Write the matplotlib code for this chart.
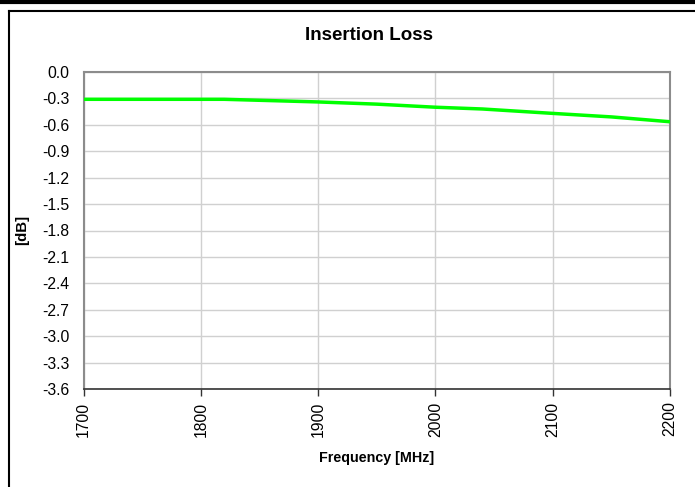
import matplotlib
matplotlib.use("Agg")
import matplotlib.pyplot as plt
from matplotlib.lines import Line2D
import numpy as np

freq = [1700, 1750, 1800, 1820, 1860, 1900, 1950, 2000, 2040, 2100, 2150, 2200]
loss = [-0.31, -0.31, -0.31, -0.31, -0.325, -0.34, -0.365, -0.40, -0.42, -0.47, -0.51, -0.565]
xticks = [1700, 1800, 1900, 2000, 2100, 2200]
yticks = [0.0, -0.3, -0.6, -0.9, -1.2, -1.5, -1.8, -2.1, -2.4, -2.7, -3.0, -3.3, -3.6]

plt.rcParams['font.family'] = ['Liberation Sans', 'DejaVu Sans']

W, H = 695, 487
fig = plt.figure(figsize=(W/100, H/100), dpi=100)
ax = fig.add_axes([83.5/W, 1-389/H, (670-83.5)/W, (389-72)/H])

ax.plot(freq, loss, color='#00ff00', lw=2.5, solid_capstyle='butt', zorder=3)
ax.set_xlim(1700, 2200)
ax.set_ylim(-3.6, 0.0)
ax.set_xticks(xticks)
ax.set_xticklabels([str(v) for v in xticks], rotation=90, fontsize=11.3)
ax.set_yticks(yticks)
ax.set_yticklabels([f"{v:.1f}" for v in yticks], fontsize=11.3)
ax.grid(True, color='#d0d0d0', lw=1)
ax.set_axisbelow(True)
ax.tick_params(axis='y', length=0, pad=10)
ax.tick_params(axis='x', length=5, width=1, direction='out', pad=4, color='#333333')
for s in ['left', 'top', 'right']:
    ax.spines[s].set_color('#8c8c8c')
    ax.spines[s].set_linewidth(1.5)
ax.spines['bottom'].set_color('#333333')
ax.spines['bottom'].set_linewidth(1.2)

fig.text(369/W, 1-36/H, 'Insertion Loss', ha='center', va='center', fontsize=13.5, fontweight='bold')
fig.text(377/W, 1-458/H, 'Frequency [MHz]', ha='center', va='center', fontsize=10.3, fontweight='bold')
fig.text(22/W, 1-230/H, '[dB]', ha='center', va='center', rotation=90, fontsize=10.8, fontweight='bold')

# outer frame decorations
fig.add_artist(Line2D([0, 1], [1-1.5/H, 1-1.5/H], color='black', lw=3, transform=fig.transFigure))
fig.add_artist(Line2D([8.5/W, 1], [1-10.5/H, 1-10.5/H], color='black', lw=1.5, transform=fig.transFigure))
fig.add_artist(Line2D([8.5/W, 8.5/W], [0, 1-10.5/H], color='black', lw=1.5, transform=fig.transFigure))

fig.savefig('out.png', dpi=100)
